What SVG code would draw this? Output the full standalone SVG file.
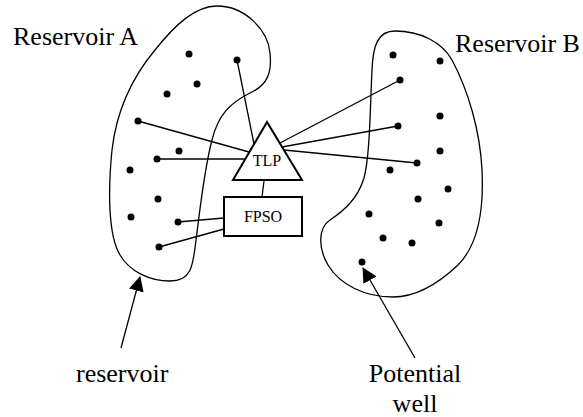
<svg xmlns="http://www.w3.org/2000/svg" width="583" height="417" viewBox="0 0 583 417">
<style>
.res{fill:none;stroke:#000;stroke-width:1.3}
.ln{fill:none;stroke:#000;stroke-width:1.3}
.node{fill:#fff;stroke:#000;stroke-width:2}
.lbl{font-family:"Liberation Serif","Times New Roman",serif;font-size:26px;fill:#000}
.nl{font-family:"Liberation Serif","Times New Roman",serif;font-size:16px;fill:#000;text-anchor:middle}
.dot{fill:#000}
</style>
<defs>
<marker id="ah" markerUnits="userSpaceOnUse" markerWidth="15" markerHeight="15" viewBox="0 0 15 15" refX="14" refY="7.5" orient="auto">
<path d="M0,0 L15,7.5 L0,15 Z" fill="#000"/>
</marker>
</defs>
<g id="reservoirA">
<path class="res" d="M217,6 C245,6 268,30 270,53 C272,72 268,85 250,93 C230,103 218,115 212,140 C204,170 200,210 196,240 C193,265 192,281 170,281 C150,281 130,272 120,255 C108,235 108,190 112,150 C116,115 130,80 155,50 C175,25 195,6 217,6 Z"/>
<text class="lbl" x="13" y="45">Reservoir A</text>
</g>
<g id="reservoirB">
<path class="res" d="M395,31 C420,31 442,42 452,60 C468,90 480,130 482,170 C484,210 478,245 458,265 C440,282 418,297 393,297 C365,297 340,285 328,265 C318,248 318,228 330,220 C345,210 358,198 364,178 C370,155 370,110 372,70 C373,45 378,31 395,31 Z"/>
<text class="lbl" x="455" y="52">Reservoir B</text>
</g>
<g id="connectors">
<line class="ln" x1="237" y1="60" x2="254" y2="144"/>
<line class="ln" x1="138" y1="121" x2="249" y2="152"/>
<line class="ln" x1="157" y1="159" x2="245" y2="159"/>
<line class="ln" x1="280" y1="143" x2="400" y2="80"/>
<line class="ln" x1="282" y1="147" x2="398" y2="126"/>
<line class="ln" x1="284" y1="150" x2="417" y2="163"/>
<line class="ln" x1="264" y1="181" x2="262" y2="197"/>
<line class="ln" x1="178" y1="222" x2="224" y2="218"/>
<line class="ln" x1="159" y1="247" x2="224" y2="229"/>
<line class="ln" x1="121" y1="348" x2="140" y2="277" marker-end="url(#ah)"/>
<line class="ln" x1="415" y1="358" x2="363" y2="268" marker-end="url(#ah)"/>
</g>
<g id="wellsA">
<circle class="dot" cx="189" cy="54" r="3.5"/>
<circle class="dot" cx="237" cy="60" r="3.5"/>
<circle class="dot" cx="197" cy="84" r="3.5"/>
<circle class="dot" cx="167" cy="94" r="3.5"/>
<circle class="dot" cx="138" cy="121" r="3.5"/>
<circle class="dot" cx="179" cy="151" r="3.5"/>
<circle class="dot" cx="157" cy="159" r="3.5"/>
<circle class="dot" cx="130" cy="170" r="3.5"/>
<circle class="dot" cx="158" cy="199" r="3.5"/>
<circle class="dot" cx="131" cy="217" r="3.5"/>
<circle class="dot" cx="178" cy="222" r="3.5"/>
<circle class="dot" cx="159" cy="247" r="3.5"/>
</g>
<g id="wellsB">
<circle class="dot" cx="393" cy="55" r="3.5"/>
<circle class="dot" cx="440" cy="61" r="3.5"/>
<circle class="dot" cx="400" cy="80" r="3.5"/>
<circle class="dot" cx="440" cy="116" r="3.5"/>
<circle class="dot" cx="398" cy="126" r="3.5"/>
<circle class="dot" cx="440" cy="151" r="3.5"/>
<circle class="dot" cx="417" cy="163" r="3.5"/>
<circle class="dot" cx="390" cy="170" r="3.5"/>
<circle class="dot" cx="448" cy="189" r="3.5"/>
<circle class="dot" cx="418" cy="199" r="3.5"/>
<circle class="dot" cx="369" cy="214" r="3.5"/>
<circle class="dot" cx="439" cy="223" r="3.5"/>
<circle class="dot" cx="383" cy="238" r="3.5"/>
<circle class="dot" cx="412" cy="243" r="3.5"/>
<circle class="dot" cx="362" cy="262" r="3.5"/>
</g>
<g id="TLP">
<polygon class="node" points="267,122 233,180 302,180"/>
<text class="nl" x="267" y="166">TLP</text>
</g>
<g id="FPSO">
<rect class="node" x="224" y="197" width="78" height="39"/>
<text class="nl" x="263" y="222">FPSO</text>
</g>
<g id="labels">
<text class="lbl" x="76" y="382">reservoir</text>
<text class="lbl" x="415" y="382" text-anchor="middle">Potential</text>
<text class="lbl" x="415" y="412" text-anchor="middle">well</text>
</g>
</svg>
